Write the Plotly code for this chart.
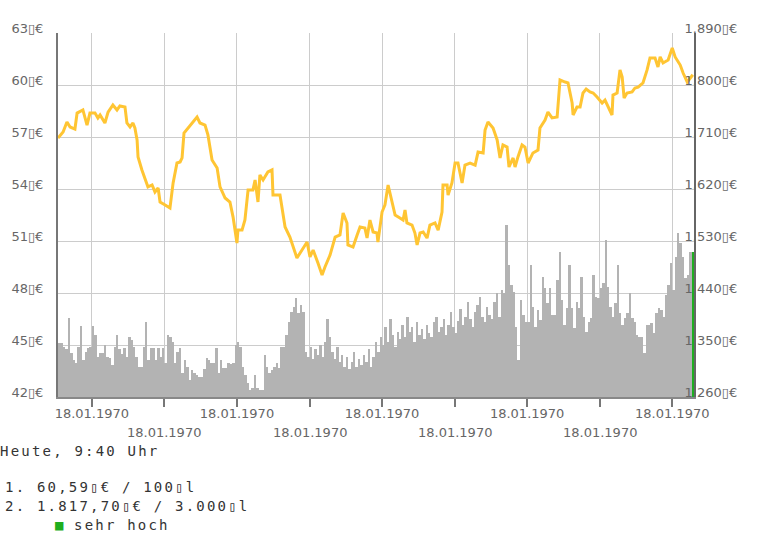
import plotly.graph_objects as go

# ---------------- data ----------------
N_DAYS = 263
tick_days = [14, 44, 74, 104, 134, 164, 194, 224, 254]
tick_labels = ["18.01.1970"] * 9

left_ticks = [42, 45, 48, 51, 54, 57, 60, 63]
left_labels = ["42▯€", "45▯€", "48▯€", "51▯€", "54▯€", "57▯€", "60▯€", "63▯€"]
right_ticks = [1260, 1350, 1440, 1530, 1620, 1710, 1800, 1890]
right_labels = ["1.260▯€", "1.350▯€", "1.440▯€", "1.530▯€", "1.620▯€",
                "1.710▯€", "1.800▯€", "1.890▯€"]

price_day = [0, 2.1, 3.7, 5.0, 7.0, 7.9, 10.3, 12.0, 13.2, 15.3, 16.5, 17.4, 19.4, 20.7,
             22.7, 24.4, 25.6, 27.7, 28.5, 29.8, 31.0, 31.8, 32.7, 33.1, 34.7, 36.0, 37.2,
             38.9, 40.1, 41.4, 42.2, 44.3, 46.3, 47.6, 49.2, 50.5, 51.3, 52.1, 53.8, 55.8,
             57.5, 58.7, 60.8, 62.0, 63.7, 65.8, 67.0, 69.1, 71.1, 72.4, 74.0, 74.4, 76.1,
             77.3, 78.6, 80.6, 81.5, 82.7, 83.5, 84.8, 86.8, 88.5, 88.9, 91.8, 93.9, 95.9,
             97.2, 98.8, 100.9, 103.0, 104.2, 105.5, 107.5, 109.2, 110.4, 112.5, 114.6,
             116.6, 117.9, 119.5, 119.9, 122.0, 123.7, 124.9, 126.9, 127.8, 129.0, 130.3,
             131.9, 132.3, 134.0, 135.2, 136.5, 138.1, 139.4, 141.4, 142.7, 143.5, 144.3,
             146.4, 147.6, 148.5, 149.7, 151.0, 152.6, 153.8, 155.9, 157.2, 158.8, 159.2,
             160.9, 161.3, 162.9, 164.2, 165.4, 167.1, 168.3, 170.4, 172.5, 173.7, 175.8,
             176.6, 177.8, 179.9, 181.6, 182.8, 184.0, 185.7, 186.5, 188.2, 189.0, 190.2,
             191.9, 193.1, 194.4, 196.4, 198.5, 199.3, 201.4, 202.6, 204.3, 206.4, 207.6,
             209.7, 210.9, 212.6, 213.0, 214.6, 215.9, 217.1, 218.4, 220.0, 221.3, 222.9,
             225.0, 226.2, 227.5, 229.1, 229.5, 231.2, 232.4, 233.3, 234.1, 235.3, 237.4,
             238.6, 239.9, 241.9, 243.6, 244.8, 246.9, 248.1, 249.0, 250.2, 252.3, 254.0,
             255.2, 257.3, 258.5, 260.2, 262.5]
price = [56.94, 57.29, 57.87, 57.58, 57.46, 58.38, 58.56, 57.69, 58.38, 58.38, 58.10, 58.27,
         57.81, 58.44, 58.85, 58.56, 58.79, 58.73, 57.81, 57.58, 57.81, 57.52, 56.83, 55.85,
         55.10, 54.52, 54.12, 54.23, 53.83, 54.06, 53.25, 53.08, 52.90, 54.35, 55.50, 55.56,
         55.79, 57.23, 57.52, 57.81, 58.15, 57.81, 57.69, 57.12, 55.67, 55.21, 54.12, 53.48,
         53.25, 52.38, 50.88, 51.63, 51.63, 52.21, 53.94, 53.94, 54.52, 53.25, 54.81, 54.52,
         54.98, 55.10, 53.65, 53.65, 51.81, 51.23, 50.65, 50.02, 50.48, 50.94, 50.08, 50.48,
         49.73, 49.04, 49.50, 50.19, 51.23, 51.35, 52.62, 52.04, 50.77, 50.65, 51.35, 51.81,
         51.75, 51.17, 52.21, 51.52, 51.46, 50.94, 52.67, 53.08, 54.23, 53.25, 52.50, 52.33,
         52.21, 52.79, 52.04, 51.92, 51.46, 50.77, 51.46, 51.52, 51.17, 51.92, 52.04, 51.63,
         52.67, 54.23, 54.23, 53.65, 54.35, 55.50, 55.50, 54.35, 55.38, 55.50, 55.38, 56.13,
         56.08, 57.40, 57.87, 57.52, 56.83, 55.79, 56.54, 56.42, 55.27, 55.79, 55.27, 55.85,
         56.54, 56.42, 55.50, 56.08, 56.25, 57.52, 57.98, 58.44, 58.10, 58.15, 60.29, 60.17,
         60.12, 58.96, 58.27, 58.73, 58.73, 59.54, 59.77, 59.60, 59.54, 59.31, 58.96, 59.13,
         58.73, 58.27, 59.42, 59.54, 60.87, 60.46, 59.25, 59.54, 59.60, 59.83, 59.88, 60.12,
         60.87, 61.56, 61.56, 61.04, 61.62, 61.27, 61.44, 62.13, 61.62, 61.15, 60.69, 60.17,
         60.59]

# demand index per day (hidden scale 0..364)
demand = [54, 54, 50, 48, 79, 44, 37, 34, 50, 71,
          37, 45, 49, 50, 71, 62, 40, 44, 44, 52,
          40, 39, 32, 50, 62, 48, 43, 49, 40, 60,
          57, 50, 40, 30, 30, 50, 75, 37, 49, 49,
          37, 49, 40, 49, 34, 62, 60, 55, 34, 45,
          49, 24, 37, 30, 17, 27, 24, 22, 20, 20,
          28, 39, 37, 34, 34, 49, 24, 37, 29, 29,
          34, 33, 34, 52, 55, 50, 30, 22, 14, 7,
          9, 22, 9, 7, 7, 42, 30, 24, 27, 30,
          34, 29, 50, 50, 62, 75, 85, 90, 99, 84,
          92, 85,
          45, 40, 50, 38, 48, 42, 52, 40, 55, 78,
          60, 45, 38, 50, 35, 42, 30, 40, 28, 35,
          45, 30, 38, 32, 42, 35, 48, 30, 40, 55,
          45, 60, 52, 70, 55, 78, 62, 50, 65, 58,
          72, 60, 80, 65, 70, 55, 75, 62, 68, 58,
          72, 64, 60, 75, 80, 65, 70, 78, 62, 72,
          85, 70, 64, 76, 88, 72, 80, 95, 78, 70,
          85, 92, 100, 80, 75, 90, 82, 78, 95, 104,
          80, 107, 104, 172, 132, 112, 105, 70, 37, 97,
          82, 75, 75, 132, 90, 70, 87, 77, 120, 109,
          94, 109, 82, 82, 117, 145, 97, 72, 89, 132,
          89, 69, 95, 89, 120, 80, 65, 75, 79, 122,
          100, 99, 109, 114, 157, 110, 90, 80, 94, 132,
          84, 72, 79, 84, 104, 79, 75, 62, 60, 60,
          44, 72, 72, 74, 64, 84, 89, 87, 80, 102,
          112, 134, 107, 140, 164, 154, 140, 119, 122, 145,
          145]
current_level = "sehr hoch"

header_text = "Heute, 9:40 Uhr"
line1_text = "1. 60,59▯€ / 100▯l"
line2_text = "2. 1.817,70▯€ / 3.000▯l"

# ---------------- figure ----------------
GRAY_BAR = "#b3b3b3"
GREEN = "#1fae1f"
bar_x = [d + 0.5 for d in range(len(demand))]
bar_colors = [GRAY_BAR] * (len(demand) - 1) + [GREEN]

fig = go.Figure()
fig.add_trace(go.Bar(x=bar_x, y=demand, width=1, yaxis="y",
                     marker=dict(color=bar_colors, line=dict(width=0)),
                     hoverinfo="skip", showlegend=False))
fig.add_trace(go.Scatter(x=price_day, y=price, yaxis="y2", mode="lines",
                         line=dict(color="#ffc533", width=3),
                         showlegend=False))
fig.add_trace(go.Scatter(x=price_day, y=[p * 30 for p in price], yaxis="y3",
                         mode="lines", line=dict(width=0, color="rgba(0,0,0,0)"),
                         hoverinfo="skip", showlegend=False))

tick_font = dict(family="DejaVu Sans", size=13, color="#666666")

row1 = [t if k % 2 == 0 else "" for k, t in enumerate(tick_labels)]
annotations = []
for k, (d, t) in enumerate(zip(tick_days, tick_labels)):
    if k % 2 == 1:
        annotations.append(dict(x=d, y=0, xref="x", yref="paper", text=t,
                                showarrow=False, yanchor="middle", yshift=-35,
                                font=tick_font))

mono = dict(family="DejaVu Sans Mono", size=14, color="#333333")
SP = '<span style="letter-spacing:2.2px">%s</span>'
annotations += [
    dict(x=0, y=0, xref="paper", yref="paper", text=SP % header_text, showarrow=False,
         xanchor="left", yanchor="middle", xshift=-60, yshift=-54, font=mono),
    dict(x=0, y=0, xref="paper", yref="paper", text=SP % line1_text, showarrow=False,
         xanchor="left", yanchor="middle", xshift=-55, yshift=-90, font=mono),
    dict(x=0, y=0, xref="paper", yref="paper", text=SP % line2_text, showarrow=False,
         xanchor="left", yanchor="middle", xshift=-55, yshift=-109, font=mono),
    dict(x=0, y=0, xref="paper", yref="paper",
         text='<span style="color:%s">■</span>%s' % (GREEN, SP % (" " + current_level)),
         showarrow=False, xanchor="left", yanchor="middle", xshift=-5, yshift=-128,
         font=mono),
]

fig.update_layout(
    width=768, height=533,
    margin=dict(l=58, r=74, t=33, b=136, autoexpand=False),
    paper_bgcolor="white", plot_bgcolor="white",
    bargap=0, showlegend=False,
    font=tick_font,
    xaxis=dict(range=[0, N_DAYS], tickvals=tick_days, ticktext=row1,
               showgrid=True, gridcolor="#cccccc", gridwidth=1,
               ticks="outside", ticklen=8, tickwidth=1.5, tickcolor="#777777",
               showline=True, linecolor="#888888", linewidth=2,
               zeroline=False, tickfont=tick_font, automargin=False,
               ticklabelstandoff=-5),
    yaxis=dict(range=[0, 364], visible=False, fixedrange=True, automargin=False),
    yaxis2=dict(overlaying="y", side="left", range=[42, 63],
                tickvals=left_ticks, ticktext=left_labels,
                showgrid=True, gridcolor="#cccccc", gridwidth=1,
                showline=True, linecolor="#777777", linewidth=2,
                ticks="", zeroline=False, tickfont=tick_font,
                ticklabelstandoff=10, ticklabelshift=-5, automargin=False),
    yaxis3=dict(overlaying="y", side="right", range=[1260, 1890],
                tickvals=right_ticks, ticktext=right_labels,
                showgrid=False, showline=True, linecolor="#666666", linewidth=2,
                ticks="", zeroline=False, tickfont=tick_font,
                ticklabelstandoff=-14, ticklabelshift=-5, automargin=False),
    annotations=annotations,
)

fig.write_html("out.html", config={"displayModeBar": False},
               post_script="document.body.style.margin='0';")
